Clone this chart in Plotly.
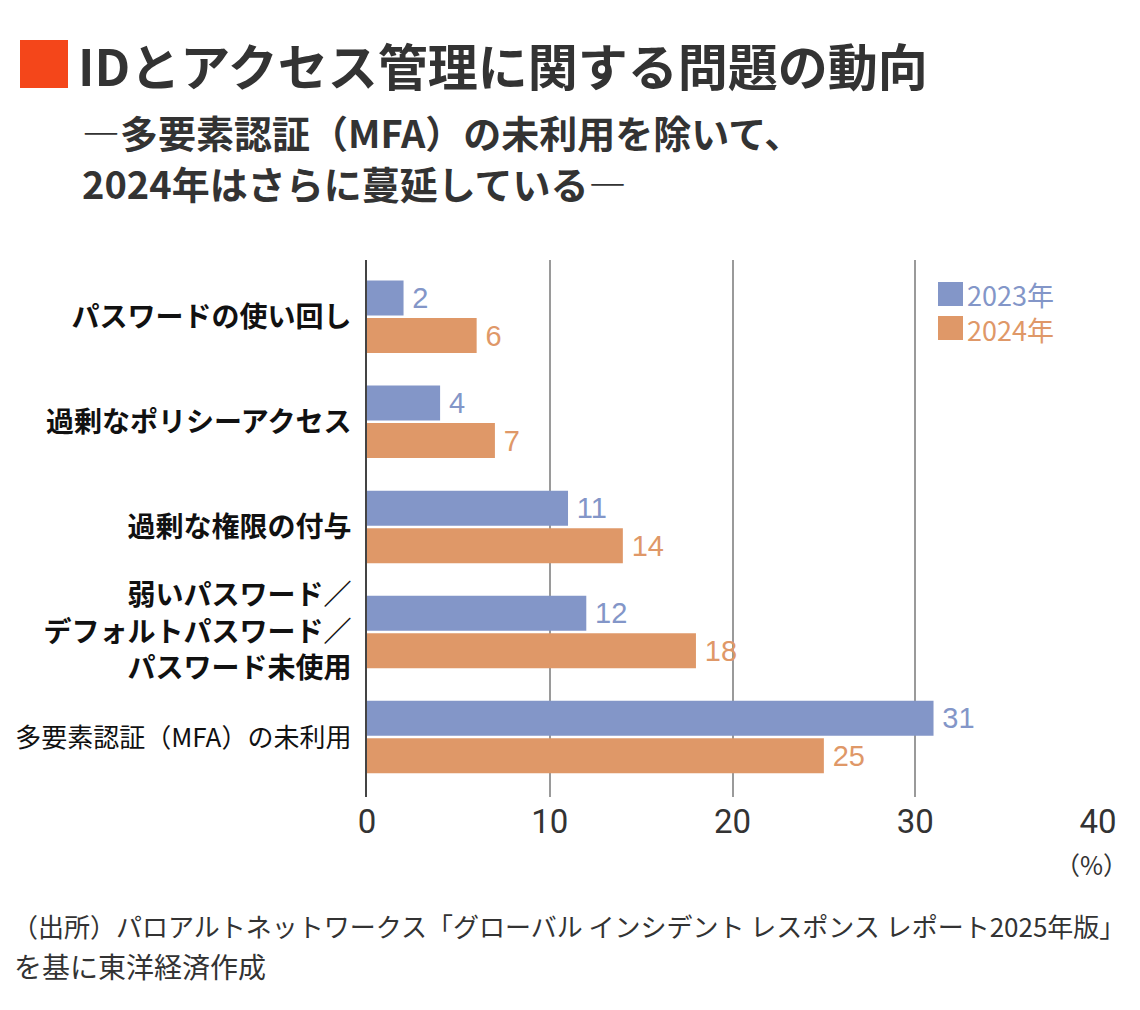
import plotly.graph_objects as go

# データ
categories = [
    "<b>パスワードの使い回し</b>",
    "<b>過剰なポリシーアクセス</b>",
    "<b>過剰な権限の付与</b>",
    "<b>弱いパスワード／<br>デフォルトパスワード／<br>パスワード未使用</b>",
    "<span style='font-size:26px'>多要素認証（MFA）の未利用</span>",
]
values_2023 = [2, 4, 11, 12, 31]
values_2024 = [6, 7, 14, 18, 25]
series_names = ["2023年", "2024年"]
x_ticks = [0, 10, 20, 30, 40]

blue = "#8396C8"
orange = "#DF9868"
jp_font = "Noto Sans CJK JP"
num_font = "Liberation Sans Narrow, Roboto, Liberation Sans"

# ページ余白(8px)を差し引いた座標
OFF = 8
W, H = 1140, 1010
L, R, T, B = 367 - OFF, 1098 - OFF, 260 - OFF, 797 - OFF


def px2paper(px, py):
    return (px - OFF - L) / (R - L), (B - (py - OFF)) / (B - T)


fig = go.Figure()
for name, vals, col in [(series_names[0], values_2023, blue), (series_names[1], values_2024, orange)]:
    fig.add_trace(go.Bar(
        y=categories, x=vals, name=name, orientation="h",
        marker=dict(color=col, line=dict(width=0)),
        text=[f"\u2009{v}" for v in vals], textposition="outside", cliponaxis=False,
        textfont=dict(family="Liberation Sans, Arial", size=29, color=col),
    ))

fig.update_layout(
    width=W, height=H,
    margin=dict(l=L, r=W - R, t=T, b=H - B, autoexpand=False),
    plot_bgcolor="white", paper_bgcolor="white",
    barmode="group", bargap=0.286, bargroupgap=0.067,
    showlegend=False,
    font=dict(family=jp_font, color="#222"),
)
fig.update_xaxes(
    range=[0, 40], tickvals=x_ticks, showgrid=True, gridcolor="#9a9a9a", gridwidth=2,
    zeroline=False, showline=False, ticks="", automargin=False, ticklabelstandoff=2,
    tickfont=dict(family=num_font, size=33, color="#333"),
)
fig.update_yaxes(
    type="category", categoryarray=categories, range=[4.57, -0.54],
    showline=True, linecolor="#444", linewidth=2, showgrid=False, ticks="",
    ticklabelstandoff=8, automargin=False,
    tickfont=dict(family=jp_font, size=28, color="#111"),
)


def box(px0, py0, px1, py1, color):
    x0, y0 = px2paper(px0, py0)
    x1, y1 = px2paper(px1, py1)
    fig.add_shape(type="rect", xref="paper", yref="paper", x0=x0, x1=x1, y0=y1, y1=y0,
                  fillcolor=color, line=dict(width=0))


def note(text, px, py, size, color="#333", xanchor="left", family=jp_font):
    x, y = px2paper(px, py)
    fig.add_annotation(text=text, x=x, y=y, xref="paper", yref="paper",
                       xanchor=xanchor, yanchor="middle", showarrow=False, align="left",
                       font=dict(family=family, size=size, color=color))


# タイトル
box(20, 40, 68, 88, "#F4461A")
note("<b>IDとアクセス管理に関する問題の動向</b>", 76, 64, 50)
note("<b>―多要素認証（MFA）の未利用を除いて、</b>", 80, 131, 38)
note("<b>2024年はさらに蔓延している―</b>", 80, 182, 38)

# 凡例
box(938, 282, 963, 306, blue)
box(938, 316, 963, 340, orange)
note(f"<span style='color:{blue}'>{series_names[0]}</span><br>"
     f"<span style='color:{orange}'>{series_names[1]}</span>", 965, 312, 27)

note("（%）", 1130, 864, 25, "#333", xanchor="right")

note("（出所）パロアルトネットワークス「グローバル インシデント レスポンス レポート2025年版」", 10, 925, 26)
note("を基に東洋経済作成", 12, 966, 28)

fig.write_html("out.html")
